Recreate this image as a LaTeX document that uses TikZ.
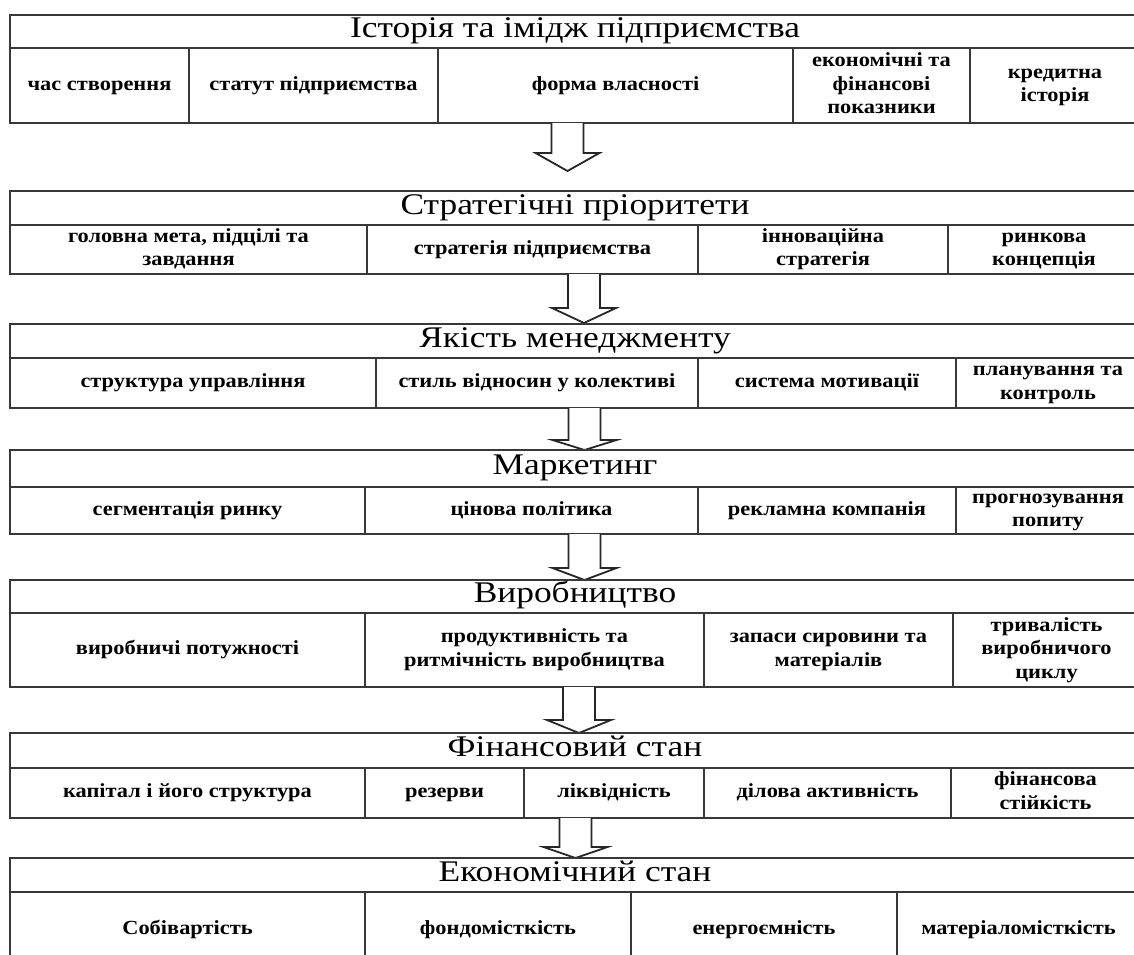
\documentclass[tikz,border=0pt]{standalone}
\usepackage{fontspec}
\setmainfont{Liberation Serif}
\newfontfamily\ttlfont[FakeStretch=1.18]{Liberation Serif}
\newfontfamily\celfont[FakeStretch=1.12]{Liberation Serif}
\usetikzlibrary{calc}
\tikzset{
  frame/.style={draw=black!78, line width=1.5pt, inner sep=0pt, outer sep=0pt, anchor=north west},
  ttl/.style={frame, font=\ttlfont\fontsize{30}{32}\selectfont},
  cel/.style={frame, font=\celfont\bfseries\fontsize{20}{23.4}\selectfont, align=center},
  blockarrow/.style={draw=black!85, line width=1.8pt, fill=white, line join=miter}
}
\newcommand\bx[7]{\node[#1, minimum width={#5pt-#3pt}, minimum height={#6pt-#4pt}] (#2) at (#3,#4) {\strut #7\strut};}
\newcommand\barrow[6]{% name, x, top, wing y, tip y, half shaft
  \coordinate (#1) at (#2,#3);
  \draw[blockarrow] ($(#1)+(-#6,0)$) -- ($(#1)+(-#6,#4-#3)$) -- ($(#1)+(-2*#6,#4-#3)$) -- ($(#1)+(0,#5-#3)$) -- ($(#1)+(2*#6,#4-#3)$) -- ($(#1)+(#6,#4-#3)$) -- ($(#1)+(#6,0)$);}
\begin{document}
\begin{tikzpicture}[x=1pt,y=-1pt]
\useasboundingbox (0,0) rectangle (1134,954);
\clip (0,0) rectangle (1134,954);
\fill[white] (0,0) rectangle (1134,954);
% Box 1
\bx{ttl}{t1}{10}{15}{1140}{48}{Історія та імідж підприємства}
\bx{cel}{c11}{10}{48}{189}{123}{час створення}
\bx{cel}{c12}{189}{48}{438}{123}{статут підприємства}
\bx{cel}{c13}{438}{48}{793}{123}{форма власності}
\bx{cel}{c14}{793}{48}{970}{123}{економічні та\\фінансові\\показники}
\bx{cel}{c15}{970}{48}{1140}{123}{кредитна\\історія}
\barrow{a1}{567.5}{123}{153}{171}{16}
% Box 2
\bx{ttl}{t2}{10}{191}{1140}{225}{Стратегічні пріоритети}
\bx{cel}{c21}{10}{225}{367}{274}{головна мета, підцілі та\\завдання}
\bx{cel}{c22}{367}{225}{698}{274}{стратегія підприємства}
\bx{cel}{c23}{698}{225}{948}{274}{інноваційна\\стратегія}
\bx{cel}{c24}{948}{225}{1140}{274}{ринкова\\концепція}
\barrow{a2}{584}{274}{308}{323}{16}
% Box 3
\bx{ttl}{t3}{10}{324}{1140}{358}{Якість менеджменту}
\bx{cel}{c31}{10}{358}{376}{408}{структура управління}
\bx{cel}{c32}{376}{358}{698}{408}{стиль відносин у колективі}
\bx{cel}{c33}{698}{358}{956}{408}{система мотивації}
\bx{cel}{c34}{956}{358}{1140}{408}{планування та\\контроль}
\barrow{a3}{584.5}{408}{440}{450}{16}
% Box 4
\bx{ttl}{t4}{10}{450}{1140}{487}{Маркетинг}
\bx{cel}{c41}{10}{487}{365}{534}{сегментація ринку}
\bx{cel}{c42}{365}{487}{698}{534}{цінова політика}
\bx{cel}{c43}{698}{487}{956}{534}{рекламна компанія}
\bx{cel}{c44}{956}{487}{1140}{534}{прогнозування\\попиту}
\barrow{a4}{584.5}{534}{568}{580}{16}
% Box 5
\bx{ttl}{t5}{10}{580}{1140}{613}{Виробництво}
\bx{cel}{c51}{10}{613}{365}{687}{виробничі потужності}
\bx{cel}{c52}{365}{613}{704}{687}{продуктивність та\\ритмічність виробництва}
\bx{cel}{c53}{704}{613}{953}{687}{запаси сировини та\\матеріалів}
\bx{cel}{c54}{953}{613}{1140}{687}{тривалість\\виробничого\\циклу}
\barrow{a5}{579}{687}{720}{733}{16}
% Box 6
\bx{ttl}{t6}{10}{733}{1140}{768}{Фінансовий стан}
\bx{cel}{c61}{10}{768}{365}{818}{капітал і його структура}
\bx{cel}{c62}{365}{768}{524}{818}{резерви}
\bx{cel}{c63}{524}{768}{704}{818}{ліквідність}
\bx{cel}{c64}{704}{768}{951}{818}{ділова активність}
\bx{cel}{c65}{951}{768}{1140}{818}{фінансова\\стійкість}
\barrow{a6}{575.5}{818}{847}{858}{16}
% Box 7
\bx{ttl}{t7}{10}{858}{1140}{892}{Економічний стан}
\bx{cel}{c71}{10}{892}{365}{968}{Собівартість}
\bx{cel}{c72}{365}{892}{631}{968}{фондомісткість}
\bx{cel}{c73}{631}{892}{897}{968}{енергоємність}
\bx{cel}{c74}{897}{892}{1140}{968}{матеріаломісткість}
\end{tikzpicture}
\end{document}
